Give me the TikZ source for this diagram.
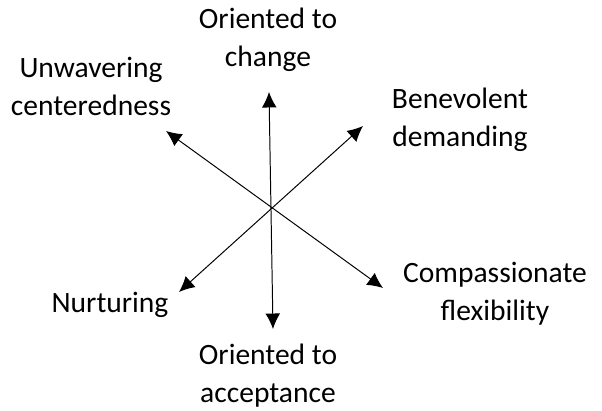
\documentclass[tikz,border=0pt]{standalone}
\usepackage{fontspec}
\setmainfont{Carlito}
\usetikzlibrary{arrows.meta}

\begin{document}
\begin{tikzpicture}[x=0.025cm,y=-0.025cm,<->,>={Latex[length=11pt,width=10.5pt]},
                    line width=0.7pt]
  \tikzstyle{label}=[align=center,font=\fontsize{21}{27}\selectfont,inner sep=0pt]

  \useasboundingbox (0,0) rectangle (602,411);

  % arrow tips
  \coordinate (ch) at (269,92);
  \coordinate (ac) at (273,329);
  \coordinate (uc) at (166,131);
  \coordinate (cf) at (383,288);
  \coordinate (bd) at (363,126);
  \coordinate (nu) at (179,292);

  \node[label] (change)  at (268,40)  {Oriented to\\change};
  \node[label] (accept)  at (268,376) {Oriented to\\acceptance};
  \node[label] (unwav)   at (91,86)   {Unwavering\\centeredness};
  \node[label] (benev)   at (460,120) {Benevolent\\demanding};
  \node[label] (compass) at (495,294) {Compassionate\\flexibility};
  \node[label] (nurt)    at (110,305) {Nurturing};

  \draw (ch) -- (ac);
  \draw (uc) -- (cf);
  \draw (bd) -- (nu);
\end{tikzpicture}
\end{document}
